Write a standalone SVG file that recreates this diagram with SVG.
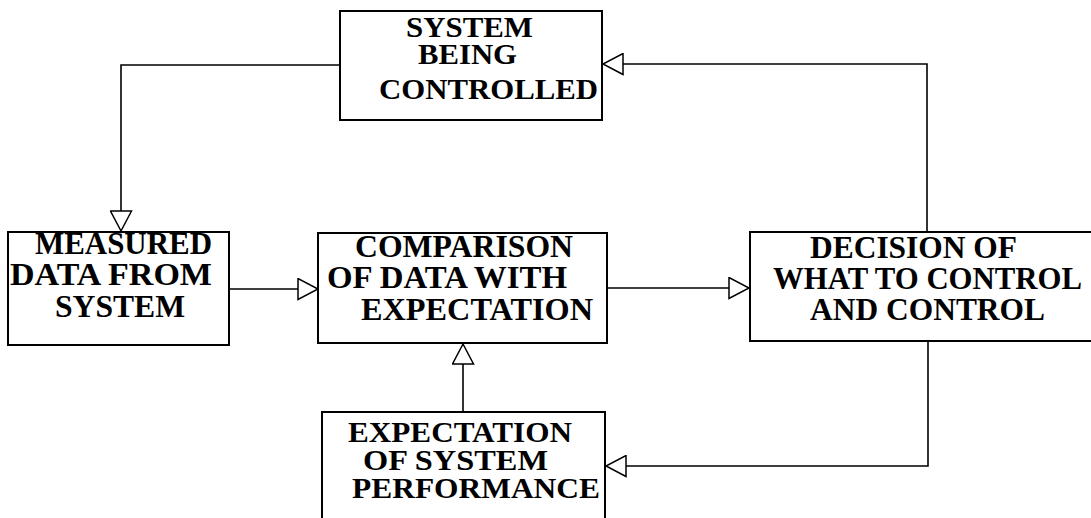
<svg xmlns="http://www.w3.org/2000/svg" width="1091" height="518" viewBox="0 0 1091 518">
  <style>
    .box { fill: #fff; stroke: #000; stroke-width: 2; }
    .lbl { font-family: "Liberation Serif", "Times New Roman", serif; font-weight: bold; font-size: 32px; fill: #000; }
    .sm { font-size: 30px; }
    .wire { fill: none; stroke: #000; stroke-width: 1.6; marker-end: url(#tri); }
  </style>
  <defs>
    <!-- open triangular arrowhead -->
    <marker id="tri" viewBox="-1 -1 23 23" markerWidth="23" markerHeight="23" markerUnits="userSpaceOnUse" refX="20" refY="10.5" orient="auto">
      <path d="M0,0 L20,10.5 L0,21 Z" fill="#fff" stroke="#000" stroke-width="1.5"/>
    </marker>
  </defs>
  <rect width="1091" height="518" fill="#fff"/>

  <g id="connectors">
    <path class="wire" d="M341,65 H121 V231"/>
    <path class="wire" d="M229,289 H318"/>
    <path class="wire" d="M607,288 H749"/>
    <path class="wire" d="M927,232 V64 H603"/>
    <path class="wire" d="M928,341 V466 H606"/>
    <path class="wire" d="M463,412 V344"/>
  </g>

  <g id="system-being-controlled">
    <rect class="box" x="340" y="11" width="262" height="109"/>
    <text class="lbl sm" x="406" y="37" textLength="127" lengthAdjust="spacingAndGlyphs">SYSTEM</text>
    <text class="lbl sm" x="418" y="64" textLength="99" lengthAdjust="spacingAndGlyphs">BEING</text>
    <text class="lbl sm" x="379" y="99" textLength="219" lengthAdjust="spacingAndGlyphs">CONTROLLED</text>
  </g>

  <g id="measured-data">
    <rect class="box" x="8" y="232" width="221" height="113"/>
    <text class="lbl" x="35" y="254" textLength="177" lengthAdjust="spacingAndGlyphs">MEASURED</text>
    <text class="lbl" x="10" y="285" textLength="202" lengthAdjust="spacingAndGlyphs">DATA FROM</text>
    <text class="lbl" x="55" y="317" textLength="130" lengthAdjust="spacingAndGlyphs">SYSTEM</text>
  </g>

  <g id="comparison">
    <rect class="box" x="318" y="233" width="289" height="110"/>
    <text class="lbl" x="355" y="257" textLength="218" lengthAdjust="spacingAndGlyphs">COMPARISON</text>
    <text class="lbl" x="327" y="288" textLength="240" lengthAdjust="spacingAndGlyphs">OF DATA WITH</text>
    <text class="lbl" x="361" y="320" textLength="232" lengthAdjust="spacingAndGlyphs">EXPECTATION</text>
  </g>

  <g id="decision">
    <rect class="box" x="750" y="232" width="345" height="109"/>
    <text class="lbl" x="810" y="258" textLength="207" lengthAdjust="spacingAndGlyphs">DECISION OF</text>
    <text class="lbl" x="773" y="289" textLength="309" lengthAdjust="spacingAndGlyphs">WHAT TO CONTROL</text>
    <text class="lbl" x="810" y="320" textLength="235" lengthAdjust="spacingAndGlyphs">AND CONTROL</text>
  </g>

  <g id="expectation">
    <rect class="box" x="322" y="412" width="283" height="113"/>
    <text class="lbl sm" x="348" y="442" textLength="224" lengthAdjust="spacingAndGlyphs">EXPECTATION</text>
    <text class="lbl sm" x="363" y="470" textLength="185" lengthAdjust="spacingAndGlyphs">OF SYSTEM</text>
    <text class="lbl sm" x="352" y="498" textLength="248" lengthAdjust="spacingAndGlyphs">PERFORMANCE</text>
  </g>
</svg>
